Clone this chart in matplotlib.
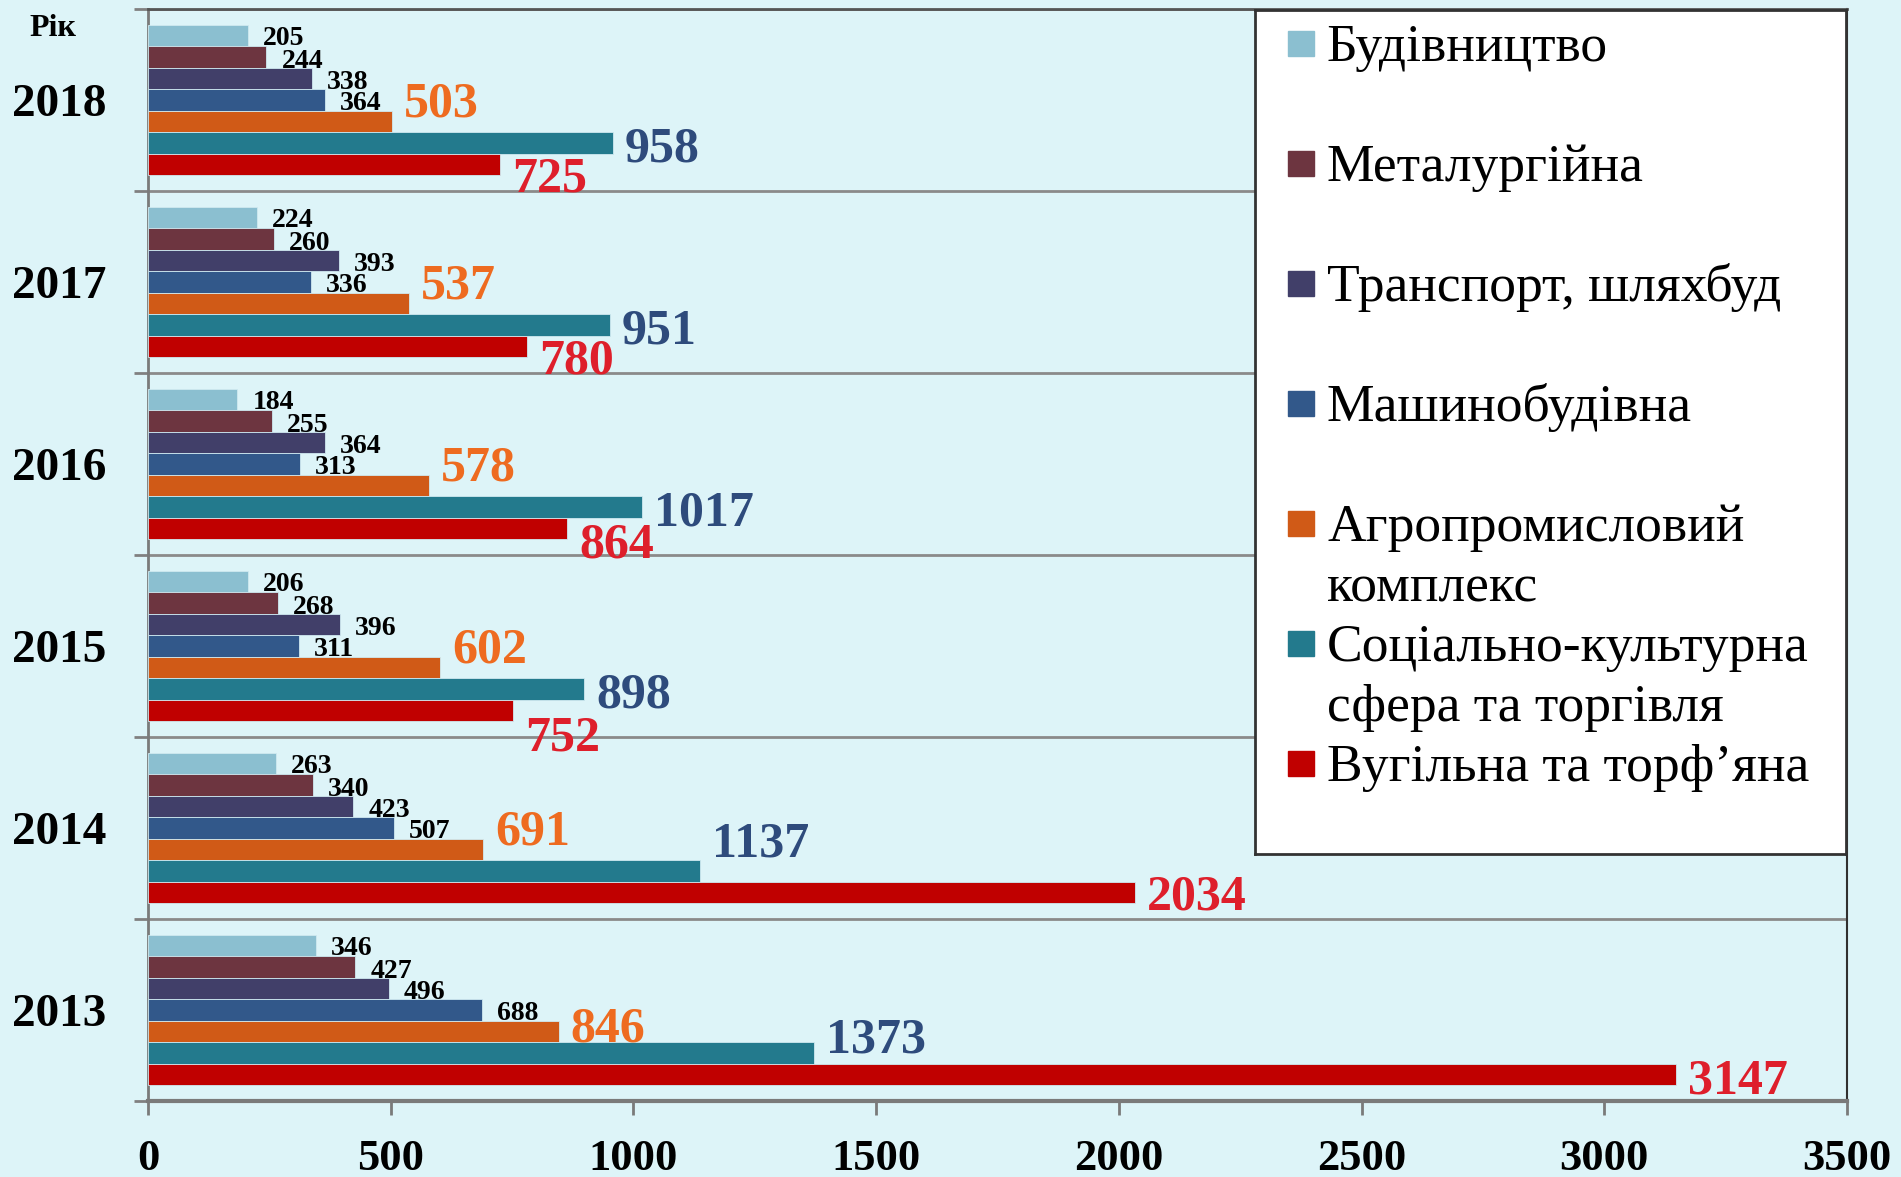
import matplotlib.pyplot as plt
import numpy as np
from matplotlib.patches import Rectangle

# Data
years = [2018, 2017, 2016, 2015, 2014, 2013]
sectors = [
    "Будівництво",
    "Металургійна",
    "Транспорт, шляхбуд",
    "Машинобудівна",
    "Агропромисловий\nкомплекс",
    "Соціально-культурна\nсфера та торгівля",
    "Вугільна та торф’яна",
]
budivnytstvo = [205, 224, 184, 206, 263, 346]
metalurhiina = [244, 260, 255, 268, 340, 427]
transport = [338, 393, 364, 396, 423, 496]
mashynobud = [364, 336, 313, 311, 507, 688]
agro = [503, 537, 578, 602, 691, 846]
sotsialno = [958, 951, 1017, 898, 1137, 1373]
vuhilna = [725, 780, 864, 752, 2034, 3147]
series = [budivnytstvo, metalurhiina, transport, mashynobud, agro, sotsialno, vuhilna]
xticks = [0, 500, 1000, 1500, 2000, 2500, 3000, 3500]

bar_colors = ["#8BBFD0", "#6D3540", "#413F69", "#32588A", "#D05A17", "#237A8D", "#C00000"]
label_colors = ["black", "black", "black", "black", "#EE6B20", "#2E4B7C", "#DE1F2B"]
label_sizes = [20, 20, 20, 20, 36, 36, 36]
label_dx = [15, 15, 15, 15, 12, 12, 12]
# vertical nudge of value labels, pixels (down positive)
label_dy = [0, 1, 1, 1, -22, 2, 10]
label_dy_extra = {(2014, 5): -33, (2013, 5): -19, (2013, 4): 15, (2015, 6): 13,
                  (2016, 6): 2, (2014, 6): -10, (2013, 6): -8}

bg = "#DDF4F8"
W, H = 1901, 1177
plt.rcParams["font.family"] = ["Liberation Serif", "DejaVu Serif"]

fig = plt.figure(figsize=(W / 100, H / 100), dpi=100, facecolor=bg)
ax = fig.add_axes([148 / W, 1 - 1101 / H, 1699 / W, 1092 / H], facecolor=bg)

ypos = np.arange(len(years))[::-1]
h = 0.1176
for j, vals in enumerate(series):
    yb = ypos + (3 - j) * h
    ax.barh(yb, vals, height=h, color=bar_colors[j], edgecolor="#cfe9f0", linewidth=0.6, zorder=3)
    fs = label_sizes[j]
    base = 0.338 * fs * 100 / 72
    for k, v in enumerate(vals):
        dy = label_dy[j] + label_dy_extra.get((years[k], j), 0)
        ax.annotate(str(v), xy=(v, yb[k]), xytext=(label_dx[j], -dy - base), textcoords="offset pixels",
                    ha="left", va="baseline", fontsize=fs, fontweight="bold",
                    color=label_colors[j], zorder=5)

ax.set_xlim(0, 3500)
ax.set_ylim(-0.5, len(years) - 0.5)
ax.set_xticks(xticks)
ax.set_xticklabels([str(t) for t in xticks], fontsize=32, fontweight="bold")
ax.tick_params(axis="x", length=10, width=2, color="#7a7a7a", pad=17)

ax.set_yticks(np.arange(-0.5, len(years), 1))
ax.set_yticklabels([])
ax.tick_params(axis="y", which="major", length=10, width=2, color="#808080")
ax.set_yticks(ypos, minor=True)
ax.set_yticklabels([str(y) for y in years], minor=True, fontsize=34, fontweight="bold")
ax.tick_params(axis="y", which="minor", length=0, pad=30)
ax.grid(axis="y", which="major", color="#8a8a8a", linewidth=2, zorder=1)

for side in ["left", "bottom"]:
    ax.spines[side].set_color("#7a7a7a")
ax.spines["left"].set_linewidth(2)
ax.spines["bottom"].set_linewidth(3)
ax.spines["top"].set_color("#555555")
ax.spines["top"].set_linewidth(2)
ax.spines["right"].set_color("#303030")
ax.spines["right"].set_linewidth(1.5)

fig.text(29 / W, 1 - 36 / H, "Рік", fontsize=23, fontweight="bold", ha="left", va="baseline")

# Legend box
lx0, ly0, lx1, ly1 = 1255, 10, 1846, 854
lax = fig.add_axes([lx0 / W, 1 - ly1 / H, (lx1 - lx0) / W, (ly1 - ly0) / H], facecolor="white")
lax.set_xlim(0, lx1 - lx0)
lax.set_ylim(ly1 - ly0, 0)
lax.set_xticks([])
lax.set_yticks([])
for s in lax.spines.values():
    s.set_color("#333333")
    s.set_linewidth(2)
for i, name in enumerate(sectors):
    cy = 33.5 + i * 120
    lax.add_patch(Rectangle((33, cy - 12.5), 26, 25, color=bar_colors[i]))
    for n, line in enumerate(name.split("\n")):
        lax.text(72, cy + 17 + n * 61, line, fontsize=38.5, ha="left", va="baseline")

fig.savefig("out.png", dpi=100, facecolor=bg)
